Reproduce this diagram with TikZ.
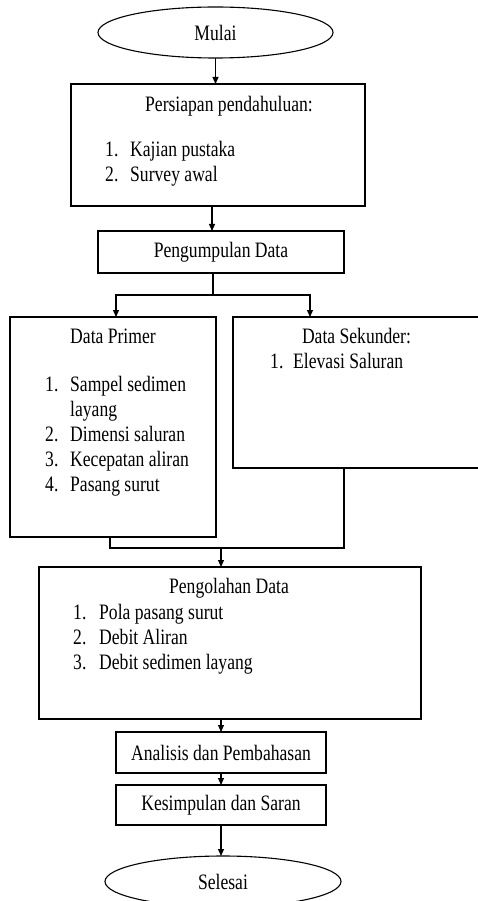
\documentclass[tikz,border=0pt]{standalone}
\usepackage{fontspec}
\setmainfont{Liberation Serif}[FakeStretch=0.8]
\usetikzlibrary{arrows.meta,positioning,shapes.geometric}

\newcommand{\teksbesar}{\fontsize{22}{25}\selectfont}

\begin{document}
\begin{tikzpicture}[x=1pt, y=-1pt,
    kotak/.style={draw, line width=1.1pt, inner sep=0pt, outer sep=0pt, font=\teksbesar},
    oval/.style={kotak, ellipse, minimum width=235pt, minimum height=51pt},
    judul/.style={anchor=base, inner sep=0pt, font=\teksbesar},
    daftar/.style={anchor=base west, inner sep=0pt, font=\teksbesar},
    garis/.style={line width=1.1pt},
    panah/.style={garis, -{Triangle[length=7pt,width=6pt]}}
  ]
  \useasboundingbox (0,0) rectangle (477,901);

  % awal
  \node[oval] (mulai) at (215.5,32.5) {Mulai};
  \node[kotak, minimum width=294pt, minimum height=122pt, below=26pt of mulai, xshift=2.5pt] (persiapan) {};
  \node[judul] (tpersiapan) at ([xshift=11pt,yshift=-28pt]persiapan.north) {Persiapan pendahuluan:};
  \node[daftar] (lpersiapan) at ([xshift=34pt,yshift=-73pt]persiapan.north west)
    {\begin{tabular}[t]{@{}p{25pt}@{}l@{}}1. & Kajian pustaka\\ 2. & Survey awal\end{tabular}};
  \draw[panah] (mulai.south) -- (mulai.south |- persiapan.north);

  \node[kotak, minimum width=246pt, minimum height=42pt, below=25pt of persiapan, xshift=3pt] (pengumpulan) {Pengumpulan Data};
  \draw[panah] ([xshift=-6pt]persiapan.south) -- ([xshift=-6pt]persiapan.south |- pengumpulan.north);

  % data
  \node[kotak, minimum width=206pt, minimum height=220pt, below=44pt of pengumpulan, xshift=-108pt] (primer) {};
  \node[kotak, minimum width=247pt, minimum height=151pt, right=17pt of primer.north east, anchor=north west] (sekunder) {};
  \node[judul] (tprimer) at ([yshift=-26pt]primer.north) {Data Primer};
  \node[daftar] (lprimer) at ([xshift=35pt,yshift=-74pt]primer.north west)
    {\begin{tabular}[t]{@{}p{25pt}@{}l@{}}1. & Sampel sedimen\\ & layang\\ 2. & Dimensi saluran\\
      3. & Kecepatan aliran\\ 4. & Pasang surut\end{tabular}};
  \node[judul] (tsekunder) at ([yshift=-26pt]sekunder.north) {Data Sekunder:};
  \node[daftar] (lsekunder) at ([xshift=37pt,yshift=-51pt]sekunder.north west)
    {\begin{tabular}[t]{@{}p{23pt}@{}l@{}}1. & Elevasi Saluran\end{tabular}};

  \coordinate (cabang) at ([xshift=-8pt,yshift=-22pt]pengumpulan.south);
  \draw[garis] ([xshift=-8pt]pengumpulan.south) -- (cabang);
  \draw[panah] (cabang) -| ([xshift=3pt]primer.north);
  \draw[panah] (cabang) -| ([xshift=-46.5pt]sekunder.north);

  % olah
  \node[kotak, minimum width=382pt, minimum height=152pt, below=30pt of primer.south west, anchor=north west, xshift=29pt] (pengolahan) {};
  \node[judul] (tpengolahan) at ([xshift=-1pt,yshift=-26pt]pengolahan.north) {Pengolahan Data};
  \node[daftar] (lpengolahan) at ([xshift=34pt,yshift=-52pt]pengolahan.north west)
    {\begin{tabular}[t]{@{}p{26pt}@{}l@{}}1. & Pola pasang surut\\ 2. & Debit Aliran\\ 3. & Debit sedimen layang\end{tabular}};

  \coordinate (gabung) at ([xshift=-9pt,yshift=19pt]pengolahan.north);
  \draw[garis] ([xshift=-3pt]primer.south) |- (gabung);
  \draw[garis] ([xshift=-12.5pt]sekunder.south) |- (gabung);
  \draw[panah] (gabung) -- (gabung |- pengolahan.north);

  % akhir
  \node[kotak, minimum width=210pt, minimum height=41pt, below=13pt of pengolahan, xshift=-9pt] (analisis) {Analisis dan Pembahasan};
  \node[kotak, minimum width=210pt, minimum height=40pt, below=12pt of analisis] (kesimpulan) {Kesimpulan dan Saran};
  \node[oval, minimum width=236pt, below=31pt of kesimpulan, xshift=2pt] (selesai) {Selesai};
  \draw[panah] (analisis.north |- pengolahan.south) -- (analisis.north);
  \draw[panah] (analisis) -- (kesimpulan);
  \draw[panah] (kesimpulan.south) -- (kesimpulan.south |- selesai.north);
\end{tikzpicture}
\end{document}
